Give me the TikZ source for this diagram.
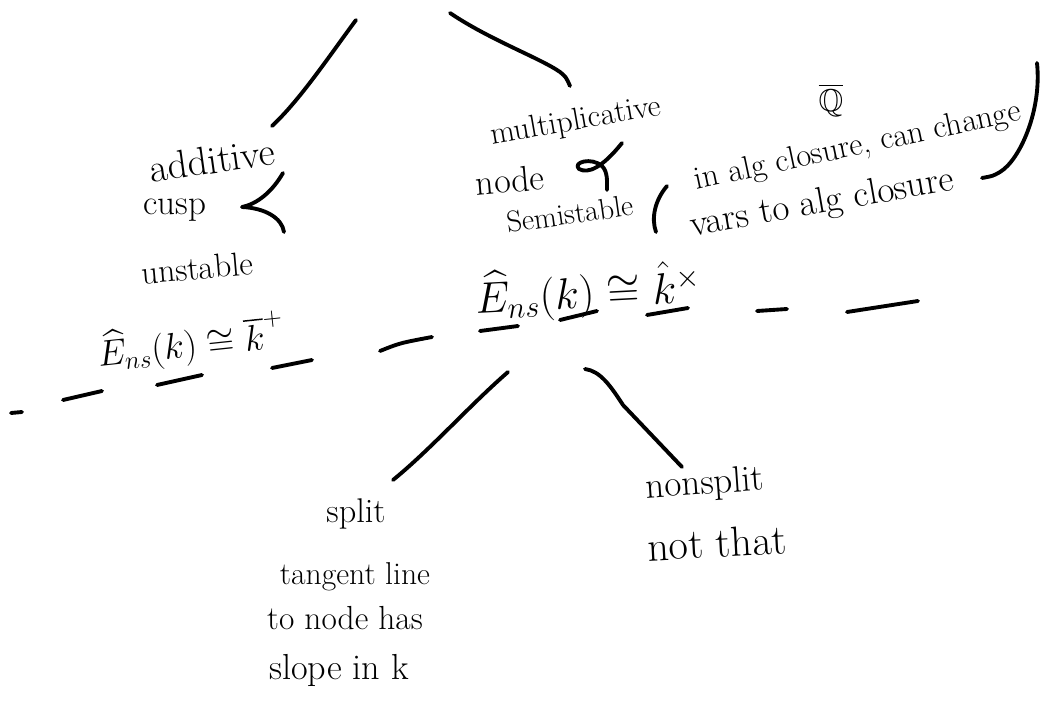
\documentclass[tikz,border=0pt]{standalone}
\usepackage{amssymb}
\usepackage{fontspec}
\begin{document}
\begin{tikzpicture}[x=0.02cm,y=-0.02cm,
  stroke/.style={line width=2.2pt,line cap=round,line join=round},
  hw/.style={inner sep=0pt,font=\fontsize{#1pt}{#1pt}\selectfont}]
\useasboundingbox (0,0) rectangle (1046,706);

% ---- text nodes ----
\node[hw=22.5,rotate=8] (additive) at (212,160) {additive};
\node[hw=20] (cusp) at (175,210) {cusp};
\node[hw=19,rotate=5] (unstable) at (197,268) {unstable};
\node[hw=21,rotate=6] (ensl) at (191,343) {$\widehat{E}_{ns}(k)\cong\overline{k}^{+}$};

\node[hw=18,rotate=10] (mult) at (576,122) {multiplicative};
\node[hw=20.5,rotate=5] (nodetxt) at (510,180) {node};
\node[hw=17,rotate=8] (semi) at (570,214) {Semistable};
\node[hw=18.5,rotate=12] (cl1) at (858,147) {in alg closure, can change};
\node[hw=21,rotate=10] (cl2) at (822,204) {vars to alg closure};
\node[hw=18] (qbar) at (831,100) {$\overline{\mathbb{Q}}$};

\node[hw=23,rotate=3] (ensr) at (588,292) {$\widehat{E}_{ns}(k)\cong\hat{k}^{\times}$};

\node[hw=19.5] (split) at (356,514) {split};
\node[hw=18] (tangent) at (355,577) {tangent line};
\node[hw=19] (tonode) at (345,618) {to node has};
\node[hw=20.6] (slope) at (339,670) {slope in k};
\node[hw=21,rotate=4] (nonsplit) at (705,485) {nonsplit};
\node[hw=24,rotate=3] (notthat) at (717,543) {not that};

% ---- connector end points ----
\coordinate (rootL) at (356,20);
\coordinate (addTop) at (272,126);
\coordinate (rootR) at (450,13);
\coordinate (multTop) at (570,86);
\coordinate (ensBL) at (508,372);
\coordinate (splitTop) at (393,480);
\coordinate (ensBR) at (585,369);
\coordinate (nonsplitTop) at (682,467);

% ---- connectors ----
\draw[stroke] (rootL) .. controls (330,55) and (300,100) .. (addTop);
\draw[stroke] (rootR) .. controls (490,40) and (540,58) .. (560,72)
                      .. controls (566,77) .. (multTop);
\draw[stroke] (ensBL) .. controls (470,405) and (430,450) .. (splitTop);
\draw[stroke] (ensBR) .. controls (600,371) and (610,385) .. (623,405)
                      -- (nonsplitTop);

% ---- marks ----
% "<" beside cusp
\draw[stroke] (283,173) .. controls (272,192) and (257,204) .. (242,207)
              .. controls (265,208) and (282,218) .. (284,232);
% node symbol
\draw[stroke] (622,143) .. controls (602,168) and (588,174) .. (579,169)
              .. controls (572,162) and (592,157) .. (602,166)
              .. controls (608,172) and (607,182) .. (607,190);
% brackets
\draw[stroke] (667,186) .. controls (655,200) and (651,218) .. (656,232);
\draw[stroke] (1037,63) .. controls (1042,110) and (1020,160) .. (1000,172)
              .. controls (993,176) .. (982,178);

% ---- dashed line / underlines ----
\draw[stroke] (11,413) -- (22,412);
\draw[stroke] (63,400) -- (102,391);
\draw[stroke] (157,385) -- (202,375);
\draw[stroke] (272,368) -- (312,360);
\draw[stroke] (380,351) .. controls (400,343) .. (432,337);
\draw[stroke] (480,331) -- (518,326);
\draw[stroke] (560,320) -- (597,311);
\draw[stroke] (647,315) -- (688,308);
\draw[stroke] (757,311) -- (787,309);
\draw[stroke] (847,312) -- (918,301);
\end{tikzpicture}
\end{document}
